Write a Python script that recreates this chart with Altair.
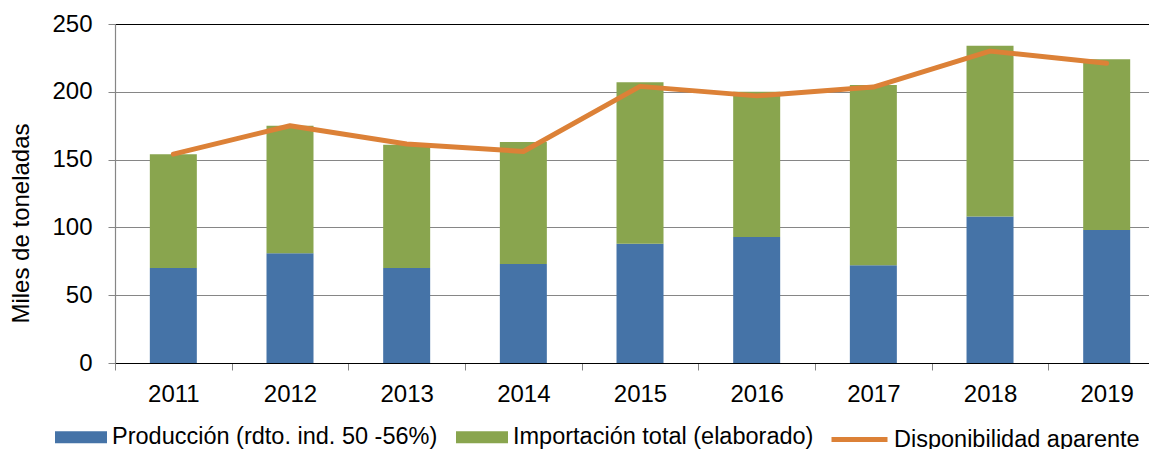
import altair as alt
import pandas as pd

years = [2011, 2012, 2013, 2014, 2015, 2016, 2017, 2018, 2019]
produccion = [70, 81, 70, 73, 88, 93, 72, 108, 98]
importacion = [84, 94, 91, 90, 119, 107, 133, 126, 126]
disponibilidad = [154, 175, 161.5, 156, 204, 197, 203.5, 230, 221]

s_prod = "Producción (rdto. ind. 50 -56%)"
s_imp = "Importación total (elaborado)"
s_disp = "Disponibilidad aparente"

bars_df = pd.DataFrame(
    [{"anio": y, "serie": s_prod, "valor": v, "orden": 0} for y, v in zip(years, produccion)]
    + [{"anio": y, "serie": s_imp, "valor": v, "orden": 1} for y, v in zip(years, importacion)]
)
line_df = pd.DataFrame({"anio": years, "valor": disponibilidad, "serie": [s_disp] * len(years)})

FONT = "Liberation Sans"
GRAY = "#868686"
FS = 24
LFS = 23.5

PLOT_W = 1034
STEP = 116.67  # px per year; the last year runs past the right edge as in the original
xscale = alt.Scale(domain=[2010.5, 2010.5 + PLOT_W / STEP], nice=False, zero=False, padding=0)
# ticks sit on the boundaries between years, labels in the middle of each year
xaxis = alt.Axis(
    title=None, values=[y - 0.5 for y in years], labelExpr="toString(datum.value + 0.5)",
    labelOffset=STEP / 2, labelAngle=0, labelAlign="center",
    domainColor="#000000", domainWidth=1, tickColor=GRAY, tickSize=7, labelPadding=12,
    labelFontSize=FS, labelColor="#000000", labelFont=FONT, grid=False,
)
yscale = alt.Scale(domain=[0, 250], nice=False)
yaxis = alt.Axis(
    values=[0, 50, 100, 150, 200, 250], grid=True,
    gridColor={"condition": {"test": "datum.value === 250", "value": "#000000"}, "value": GRAY},
    gridWidth=1.2, domainColor=GRAY, domainWidth=1.2, tickColor=GRAY, tickSize=7,
    labelPadding=16, labelFontSize=FS, labelColor="#000000", labelFont=FONT,
    title="Miles de toneladas", titleFontSize=FS, titleFontWeight="normal", titleFont=FONT,
    titleColor="#000000", titleAngle=270, titleX=-87, titleY=199, titleAlign="center",
    titleBaseline="alphabetic",
)

bars = alt.Chart(bars_df).mark_bar(size=47).encode(
    x=alt.X("anio:Q", scale=xscale, axis=xaxis),
    y=alt.Y("valor:Q", scale=yscale, axis=yaxis, stack="zero"),
    fill=alt.Fill(
        "serie:N",
        scale=alt.Scale(domain=[s_prod, s_imp], range=["#4573A7", "#89A54E"]),
        legend=alt.Legend(
            orient="none", legendX=-60, legendY=387, direction="horizontal", title=None,
            symbolType="M-1,-0.23H1V0.23H-1Z", symbolSize=2704, symbolStrokeWidth=0,
            labelFontSize=LFS, labelFont=FONT, labelColor="#000000", labelOffset=5,
            columnPadding=18, padding=0, labelLimit=0,
        ),
    ),
    order=alt.Order("orden:Q", sort="ascending"),
)

line = alt.Chart(line_df).mark_line(strokeWidth=5, strokeCap="round", strokeJoin="round").encode(
    x=alt.X("anio:Q", scale=xscale),
    y=alt.Y("valor:Q", scale=yscale),
    stroke=alt.Stroke(
        "serie:N",
        scale=alt.Scale(domain=[s_disp], range=["#DC8137"]),
        legend=alt.Legend(
            orient="none", legendX=714, legendY=385, title=None,
            symbolType="stroke", symbolSize=3136, symbolStrokeWidth=5,
            labelFontSize=LFS, labelFont=FONT, labelColor="#000000", labelOffset=4,
            padding=0, labelLimit=0,
        ),
    ),
)

chart = alt.layer(bars, line).properties(
    width=PLOT_W, height=339,
    autosize=alt.AutoSizeParams(type="none"),
    padding={"left": 107, "top": 16, "right": 0, "bottom": 86},
).configure_view(stroke=None).configure(background="white")

chart.save("out.html", embed_options={"renderer": "svg", "actions": False})
